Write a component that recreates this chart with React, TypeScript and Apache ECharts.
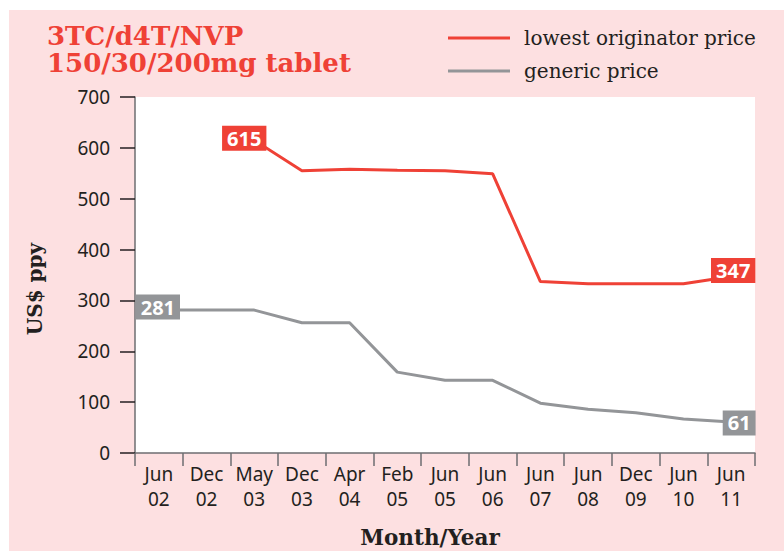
import React, { useEffect, useRef } from "react";
import * as echarts from "echarts";

const categories = [
  "Jun\n02", "Dec\n02", "May\n03", "Dec\n03", "Apr\n04", "Feb\n05", "Jun\n05",
  "Jun\n06", "Jun\n07", "Jun\n08", "Dec\n09", "Jun\n10", "Jun\n11",
];
const originatorPrice: (number | null)[] = [null, null, 615, 555, 558, 556, 555, 549, 337, 333, 333, 333, 347];
const genericPrice: number[] = [281, 281, 281, 256, 256, 159, 143, 143, 98, 86, 79, 67, 61];
const yTicks = { min: 0, max: 700, interval: 100 };
const seriesNames = ["lowest originator price", "generic price"];

const RED = "#ef4136";
const GREY = "#939598";
const PINK = "#fde0e1";
const INK = "#231f20";

function labelled(values: (number | null)[], marks: Record<number, [number, number]>, bg: string) {
  return values.map((v, i) => {
    if (v === null) return "-";
    const off = marks[i];
    if (!off) return v;
    return {
      value: v,
      label: {
        show: true,
        position: "inside",
        offset: off,
        formatter: "{c}",
        backgroundColor: bg,
        color: "#fff",
        fontFamily: "Noto Sans",
        fontWeight: "bold",
        fontSize: 20,
        lineHeight: 20,
        padding: [3, 5, 2, 5],
      },
    };
  });
}

export default function App() {
  const ref = useRef<HTMLDivElement>(null);
  useEffect(() => {
    if (!ref.current) return;
    const chart = echarts.init(ref.current, null, { renderer: "svg" });
    chart.setOption({
      animation: false,
      backgroundColor: "#fff",
      graphic: [
        { type: "rect", z: -10, silent: true, shape: { x: 9, y: 10, width: 775, height: 541 }, style: { fill: PINK } },
      ],
      title: {
        text: "3TC/d4T/NVP\n150/30/200mg tablet",
        left: 47,
        top: 22,
        padding: 0,
        textStyle: { fontFamily: "DejaVu Serif", fontWeight: "bold", fontSize: 26, lineHeight: 27, color: RED },
      },
      legend: {
        data: seriesNames,
        orient: "vertical",
        left: 448,
        top: 27,
        padding: 0,
        itemWidth: 62,
        itemHeight: 3,
        itemGap: 11,
        icon: "rect",
        textStyle: { fontFamily: "DejaVu Serif", fontSize: 20, lineHeight: 22, color: INK, padding: [0, 0, 0, 9] },
      },
      grid: {
        left: 135, right: 29, top: 97, bottom: 98,
        outerBoundsMode: "none", containLabel: false,
        show: true, backgroundColor: "#fff", borderWidth: 0,
      },
      xAxis: {
        type: "category",
        data: categories,
        boundaryGap: true,
        axisLine: { lineStyle: { color: "#6d6e71", width: 1.5 } },
        axisTick: { show: true, length: 13, interval: 0, lineStyle: { color: "#6d6e71", width: 1.5 } },
        axisLabel: { interval: 0, margin: 8, fontFamily: "Noto Sans", fontSize: 19, lineHeight: 25, color: INK },
        splitLine: { show: false },
        name: "Month/Year",
        nameLocation: "middle",
        nameGap: 73,
        nameTextStyle: { fontFamily: "DejaVu Serif", fontWeight: "bold", fontSize: 21.5, color: INK, padding: [0, 30, 0, 0] },
      },
      yAxis: {
        type: "value",
        min: yTicks.min,
        max: yTicks.max,
        interval: yTicks.interval,
        axisLine: { show: true, lineStyle: { color: "#6d6e71", width: 1.5 } },
        axisTick: { show: true, length: 15, lineStyle: { color: INK, width: 1.5 } },
        axisLabel: { margin: 25, fontFamily: "Noto Sans", fontSize: 19, color: INK },
        splitLine: { show: false },
        name: "US$ ppy",
        nameLocation: "middle",
        nameGap: 90,
        nameTextStyle: { fontFamily: "DejaVu Serif", fontWeight: "bold", fontSize: 20, color: INK, padding: [0, 28, 0, 0] },
      },
      series: [
        {
          name: seriesNames[0],
          type: "line",
          data: labelled(originatorPrice, { 2: [-10, -2], 12: [2, -6] }, RED),
          symbol: "circle",
          symbolSize: 1,
          showSymbol: true,
          connectNulls: false,
          itemStyle: { color: RED },
          lineStyle: { color: RED, width: 3 },
          z: 3,
        },
        {
          name: seriesNames[1],
          type: "line",
          data: labelled(genericPrice, { 0: [-1, -3], 12: [8, 1] }, GREY),
          symbol: "circle",
          symbolSize: 1,
          showSymbol: true,
          itemStyle: { color: GREY },
          lineStyle: { color: GREY, width: 3 },
          z: 2,
        },
      ],
    });
    return () => chart.dispose();
  }, []);
  return (
    <div
      ref={ref}
      style={{ position: "absolute", left: 0, top: 0, width: 784, height: 551 }}
    />
  );
}
